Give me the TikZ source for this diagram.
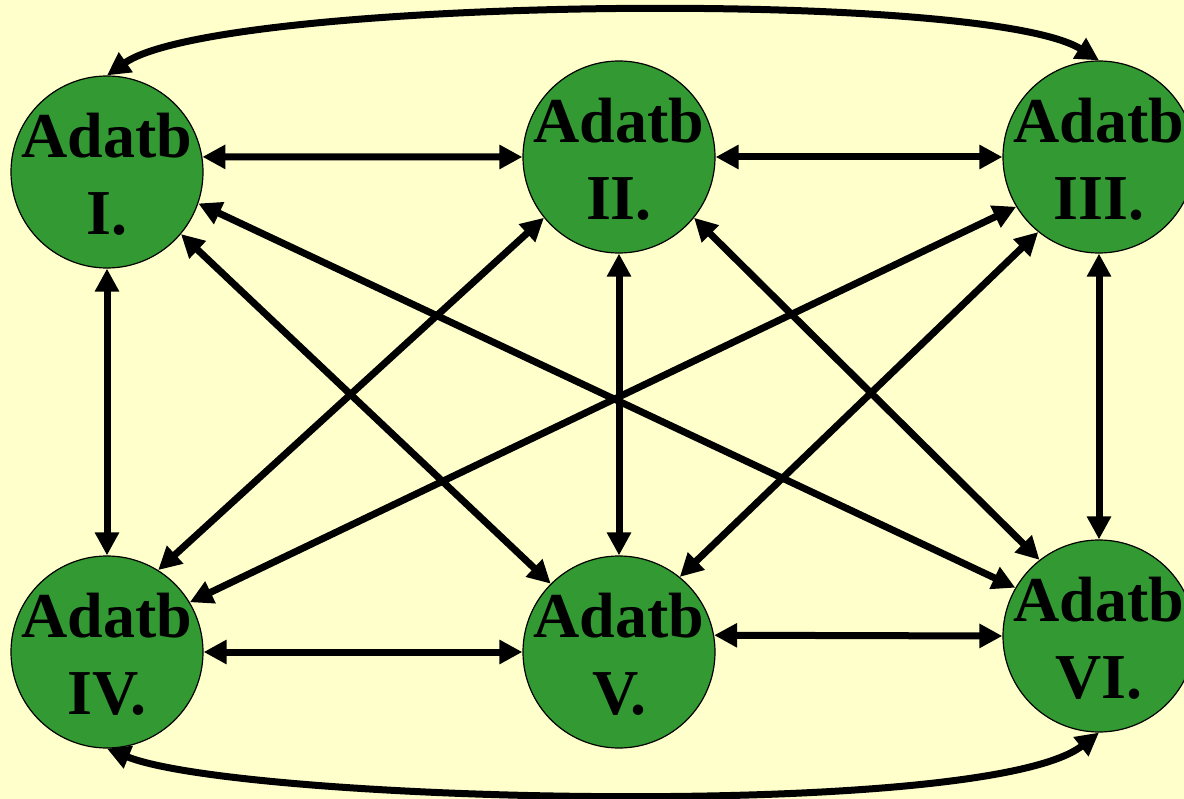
\documentclass[tikz,border=0pt]{standalone}
\usepackage{fontspec}
\setmainfont{Liberation Serif}
\usetikzlibrary{positioning, arrows.meta}
\definecolor{bgyellow}{HTML}{FFFFCC}
\definecolor{dbgreen}{HTML}{339933}

\begin{document}
\begin{tikzpicture}[x=1pt, y=1pt, <->, >={Triangle[length=23pt, width=23pt]}, line width=7pt, on grid,
    db/.style={circle, draw, fill=dbgreen, line width=1.2pt, minimum size=192pt, inner sep=0pt,
      label={[font=\fontsize{64pt}{77pt}\selectfont\bfseries, align=center, yshift=-2pt]center:Adatb\\#1}}]
      \useasboundingbox[fill=bgyellow] (0,0) rectangle (1184,-799);
      \node[db=I.] (I) at (107,-172) {};
      \node[db=II.] (II) [right=512pt of I, yshift=15pt] {};
      \node[db=III.] (III) [right=480pt of II] {};
      \node[db=IV.] (IV) [below=480pt of I] {};
      \node[db=V.] (V) [right=512pt of IV] {};
      \node[db=VI.] (VI) [right=480pt of V, yshift=16pt] {};
      \path (I.9) edge (II.west) (II) edge (III) (IV) edge (V) (V.10) edge (VI.west)
            (I) edge (IV) (II) edge (V) (III) edge (VI)
            (I.-40) edge (V.135) (I.-19) edge (VI.150)
            (II.-141) edge (IV.58) (II.-39) edge (VI.128)
            (III.211) edge (IV.31) (III.231) edge (V.51)
            (I.north) edge[out=35, in=148, looseness=0.35] (III.north)
            (IV.south) edge[out=-22, in=-142, looseness=0.37] (VI.south);
    \end{tikzpicture}
\end{document}
